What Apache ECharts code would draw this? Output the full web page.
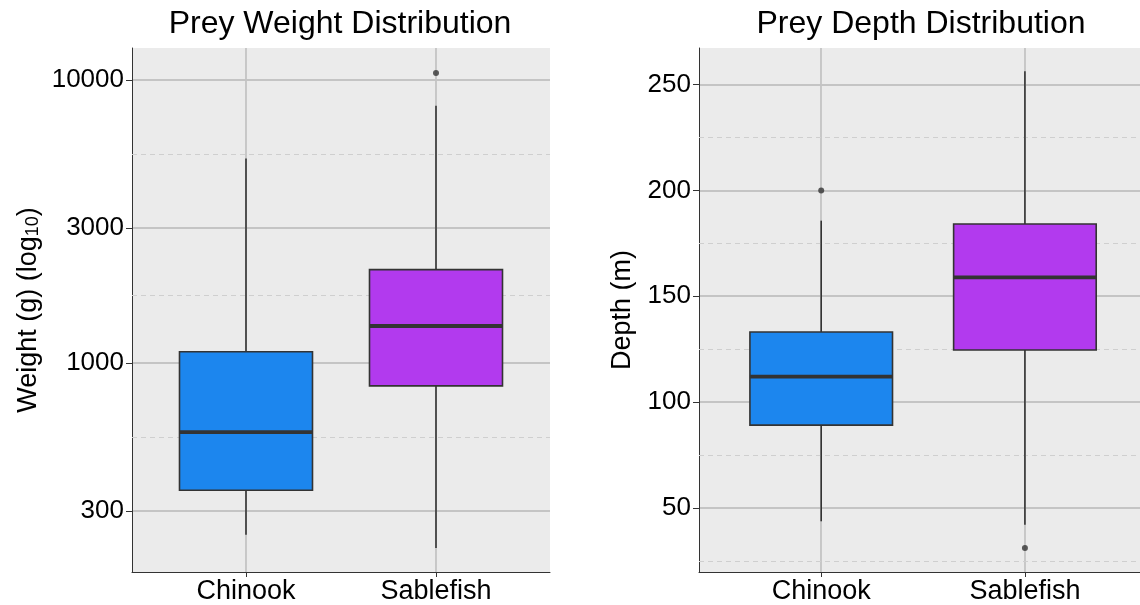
<!DOCTYPE html>
<html><head><meta charset="utf-8">
<script src="https://cdn.jsdelivr.net/npm/echarts@6/dist/echarts.min.js"></script>
<style>html,body{margin:0;padding:0;background:#fff}#c{width:1140px;height:605px}</style>
</head><body><div id="c"></div>
<script>
const categories = ['Chinook', 'Sablefish'];
// per category: [lower whisker, Q1, median, Q3, upper whisker]
const weightStats = [[247, 355, 570, 1096, 5284], [222, 830, 1351, 2138, 8110]];
const weightOutliers = [[2, 10590]];
const depthStats = [[43.7, 89.1, 112.0, 133.1, 185.7], [42.1, 124.6, 158.9, 184.1, 256.3]];
const depthOutliers = [[1, 200], [2, 31.1]];
const weightTicks = [300, 1000, 3000, 10000];
const weightMinor = [548, 1732, 5477];
const depthTicks = [50, 100, 150, 200, 250];
const depthMinor = [25, 75, 125, 175, 225];
const fillColors = ['#1C86EE', '#B23AEE'];

const FONT = 'Liberation Sans, Arial, sans-serif';
const DARK = '#333333';

function boxRender(params, api) {
  const x = api.value(0);
  const lo = api.value(1), q1 = api.value(2), md = api.value(3), q3 = api.value(4), hi = api.value(5);
  const tl = api.coord([x - 0.35, q3]);
  const br = api.coord([x + 0.35, q1]);
  const pLo = api.coord([x, lo]), pQ1 = api.coord([x, q1]), pQ3 = api.coord([x, q3]), pHi = api.coord([x, hi]);
  const mL = api.coord([x - 0.35, md]), mR = api.coord([x + 0.35, md]);
  return {
    type: 'group',
    children: [
      { type: 'line', shape: { x1: pHi[0], y1: pHi[1], x2: pQ3[0], y2: pQ3[1] }, style: { stroke: DARK, lineWidth: 1.6 } },
      { type: 'line', shape: { x1: pLo[0], y1: pLo[1], x2: pQ1[0], y2: pQ1[1] }, style: { stroke: DARK, lineWidth: 1.6 } },
      { type: 'rect', shape: { x: tl[0], y: tl[1], width: br[0] - tl[0], height: br[1] - tl[1] },
        style: { fill: fillColors[params.dataIndex], stroke: DARK, lineWidth: 1.6 } },
      { type: 'line', shape: { x1: mL[0], y1: mL[1], x2: mR[0], y2: mR[1] }, style: { stroke: DARK, lineWidth: 3.8 } }
    ]
  };
}

function xAxisFor(i, max) {
  return {
    type: 'value', gridIndex: i, min: 0.4, max: max,
    axisLine: { show: true, lineStyle: { color: DARK, width: 1 } },
    axisTick: { show: true, customValues: [1, 2], length: 5, lineStyle: { color: DARK } },
    axisLabel: { customValues: [1, 2], formatter: v => categories[Math.round(v) - 1], fontSize: 27,
      color: '#000', fontFamily: FONT, margin: 6 },
    splitLine: { show: true, lineStyle: { color: '#C4C4C4', width: 1.8 } }
  };
}

const boxData = s => s.map((r, i) => [i + 1].concat(r));

const option = {
  animation: false,
  backgroundColor: '#ffffff',
  title: [
    { text: 'Prey Weight Distribution', left: 335, top: 3, textAlign: 'center',
      textStyle: { fontSize: 32, fontWeight: 'normal', color: '#000', fontFamily: FONT } },
    { text: 'Prey Depth Distribution', left: 916, top: 3, textAlign: 'center',
      textStyle: { fontSize: 32, fontWeight: 'normal', color: '#000', fontFamily: FONT } }
  ],
  grid: [
    { left: 132, top: 48, width: 418, height: 524, show: true, backgroundColor: '#EBEBEB', borderWidth: 0 },
    { left: 699, top: 48, right: 0, height: 524, show: true, backgroundColor: '#EBEBEB', borderWidth: 0 }
  ],
  xAxis: [xAxisFor(0, 2.6), xAxisFor(1, 2.565)],
  yAxis: [
    {
      type: 'log', logBase: 10, gridIndex: 0, min: 182.6, max: 12972,
      name: 'Weight (g) (log{sub|10})', nameLocation: 'middle', nameGap: 90,
      nameTextStyle: { fontSize: 27, color: '#000', fontFamily: FONT,
        rich: { sub: { fontSize: 18, fontFamily: FONT, color: '#000', verticalAlign: 'bottom' } } },
      axisLine: { show: true, lineStyle: { color: DARK, width: 1 } },
      axisTick: { show: true, customValues: weightTicks, length: 6, lineStyle: { color: DARK } },
      axisLabel: { customValues: weightTicks, formatter: v => String(Math.round(v)), fontSize: 26,
        color: '#000', fontFamily: FONT, margin: 8 },
      splitLine: { show: true, lineStyle: { color: '#C4C4C4', width: 1.8 } }
    },
    {
      type: 'value', gridIndex: 1, min: 19.75, max: 267.25,
      name: 'Depth (m)', nameLocation: 'middle', nameGap: 63,
      nameTextStyle: { fontSize: 27, color: '#000', fontFamily: FONT },
      axisLine: { show: true, lineStyle: { color: DARK, width: 1 } },
      axisTick: { show: true, customValues: depthTicks, length: 6, lineStyle: { color: DARK } },
      axisLabel: { customValues: depthTicks, fontSize: 26, color: '#000', fontFamily: FONT, margin: 8 },
      splitLine: { show: true, lineStyle: { color: '#C4C4C4', width: 1.8 } }
    }
  ],
  series: [
    { type: 'custom', xAxisIndex: 0, yAxisIndex: 0, z: 3, renderItem: boxRender,
      encode: { x: 0, y: [1, 2, 3, 4, 5] }, data: boxData(weightStats) },
    { type: 'scatter', xAxisIndex: 0, yAxisIndex: 0, z: 5, symbolSize: 6,
      itemStyle: { color: DARK }, data: weightOutliers,
      markLine: { silent: true, symbol: 'none', z: 1, label: { show: false }, animation: false,
        lineStyle: { type: [5, 4], color: '#CFCFCF', width: 1 },
        data: weightMinor.map(v => ({ yAxis: v })) } },
    { type: 'custom', xAxisIndex: 1, yAxisIndex: 1, z: 3, renderItem: boxRender,
      encode: { x: 0, y: [1, 2, 3, 4, 5] }, data: boxData(depthStats) },
    { type: 'scatter', xAxisIndex: 1, yAxisIndex: 1, z: 5, symbolSize: 6,
      itemStyle: { color: DARK }, data: depthOutliers,
      markLine: { silent: true, symbol: 'none', z: 1, label: { show: false }, animation: false,
        lineStyle: { type: [5, 4], color: '#CFCFCF', width: 1 },
        data: depthMinor.map(v => ({ yAxis: v })) } }
  ]
};

const chart = echarts.init(document.getElementById('c'), null, { renderer: 'canvas' });
chart.setOption(option);
</script>
</body></html>
